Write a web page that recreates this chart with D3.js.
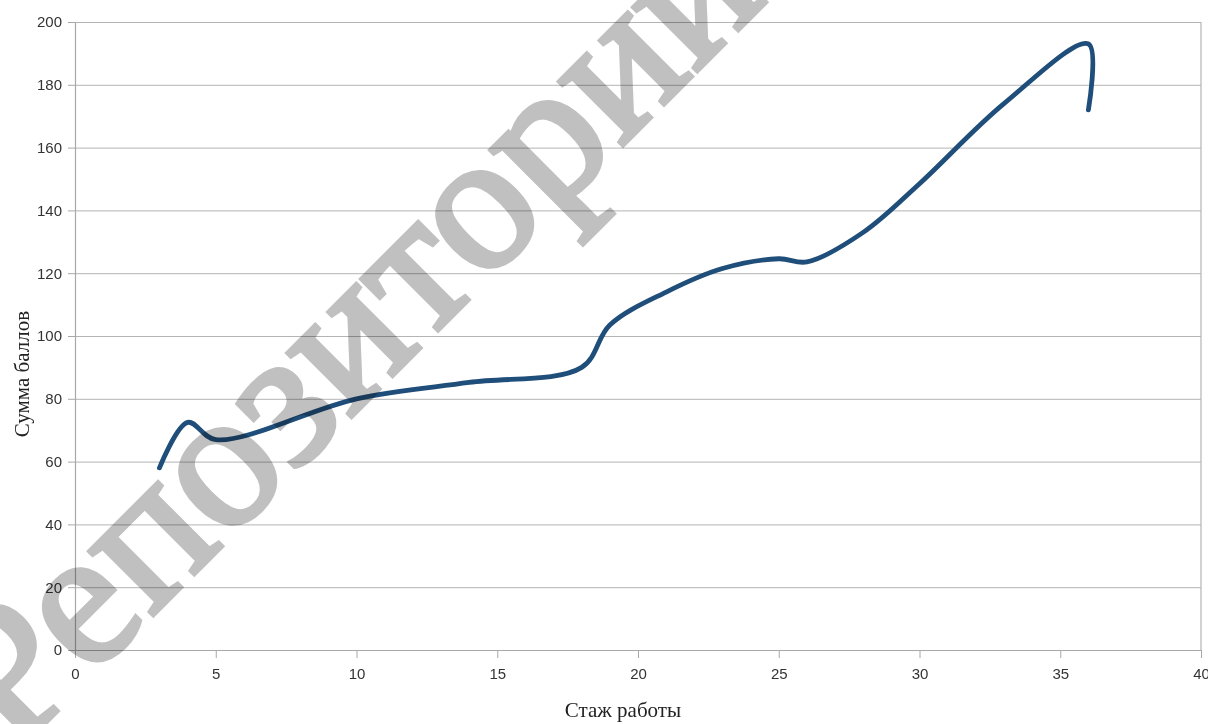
<!DOCTYPE html>
<html>
<head>
<meta charset="utf-8">
<script src="https://cdn.jsdelivr.net/npm/d3@7"></script>
<style>
  html, body { margin: 0; padding: 0; background: #fff; }
  svg { display: block; }
</style>
</head>
<body>
<svg id="chart" width="1208" height="724"></svg>
<script>
// ---- data ----
const experienceYears = [3, 4, 5, 10, 14, 18, 19, 21, 23, 25, 26, 28, 30, 33, 36, 36];
const scoreSums       = [58, 72.5, 67, 80, 85.2, 90, 103.5, 114, 121.5, 124.6, 123.6, 133, 148.5, 174, 193, 172];
const xTickValues = [0, 5, 10, 15, 20, 25, 30, 35, 40];
const yTickValues = [0, 20, 40, 60, 80, 100, 120, 140, 160, 180, 200];
const xTitle = "Стаж работы";
const yTitle = "Сумма баллов";
const watermark = "Репозиторий";

(function () {
const points = experienceYears.map((v, i) => ({ x: v, y: scoreSums[i] }));

const svg = d3.select("#chart");
const mLeft = 75, mRight = 1201, mTop = 22, mBottom = 650;

const x = d3.scaleLinear().domain([0, 40]).range([mLeft, mRight]);
const y = d3.scaleLinear().domain([0, 200]).range([mBottom, mTop]);

const gridColor = "#b4b4b4";
const labelColor = "#333";

// horizontal gridlines
svg.append("g")
  .attr("transform", `translate(${mLeft},0)`)
  .call(d3.axisLeft(y).tickValues(yTickValues).tickSize(-(mRight - mLeft)).tickFormat(""))
  .call(g => g.select(".domain").remove())
  .call(g => g.selectAll("line").attr("stroke", gridColor).attr("stroke-width", 1));

// right border
svg.append("line")
  .attr("x1", x(40)).attr("x2", x(40)).attr("y1", y(200)).attr("y2", y(0))
  .attr("stroke", gridColor).attr("stroke-width", 1.2);

// left axis
svg.append("g")
  .attr("transform", `translate(${mLeft},0)`)
  .call(d3.axisLeft(y).tickValues(yTickValues).tickSize(7).tickSizeOuter(0).tickPadding(6))
  .call(g => g.select(".domain").attr("stroke", "#a8a8a8").attr("stroke-width", 1.2))
  .call(g => g.selectAll(".tick line").attr("stroke", "#a8a8a8"))
  .call(g => g.selectAll("text")
    .attr("fill", labelColor)
    .style("font-family", "'Liberation Sans', Arial, sans-serif")
    .style("font-size", "15px"));

// bottom axis
svg.append("g")
  .attr("transform", `translate(0,${mBottom})`)
  .call(d3.axisBottom(x).tickValues(xTickValues).tickSize(8).tickSizeOuter(0).tickPadding(10))
  .call(g => g.select(".domain").attr("stroke", "#a8a8a8").attr("stroke-width", 1.2))
  .call(g => g.selectAll(".tick line").attr("stroke", "#a8a8a8"))
  .call(g => g.selectAll("text")
    .attr("fill", labelColor)
    .style("font-family", "'Liberation Sans', Arial, sans-serif")
    .style("font-size", "15px"));

// curve
const line = d3.line()
  .x(d => x(d.x))
  .y(d => y(d.y))
  .curve(d3.curveCatmullRom.alpha(0.5));

svg.append("path")
  .datum(points)
  .attr("d", line)
  .attr("fill", "none")
  .attr("stroke", "#1f4e7a")
  .attr("stroke-width", 4.8)
  .attr("stroke-linecap", "round")
  .attr("stroke-linejoin", "round");

// axis titles
svg.append("text")
  .attr("x", 623).attr("y", 717)
  .attr("text-anchor", "middle")
  .attr("fill", "#222")
  .style("font-family", "'Liberation Serif', 'Times New Roman', serif")
  .style("font-size", "21px")
  .text(xTitle);

svg.append("text")
  .attr("transform", "translate(29,374) rotate(-90)")
  .attr("text-anchor", "middle")
  .attr("fill", "#222")
  .style("font-family", "'Liberation Serif', 'Times New Roman', serif")
  .style("font-size", "21px")
  .text(yTitle);

// watermark
svg.append("text")
  .attr("transform", "translate(14,754) rotate(-45)")
  .attr("fill", "#c0c0c0")
  .attr("stroke", "#c0c0c0")
  .attr("stroke-width", 5)
  .attr("stroke-linejoin", "miter")
  .style("mix-blend-mode", "multiply")
  .style("font-family", "'Liberation Serif', 'Times New Roman', serif")
  .style("font-size", "196px")
  .text(watermark);
})();
</script>
</body>
</html>
